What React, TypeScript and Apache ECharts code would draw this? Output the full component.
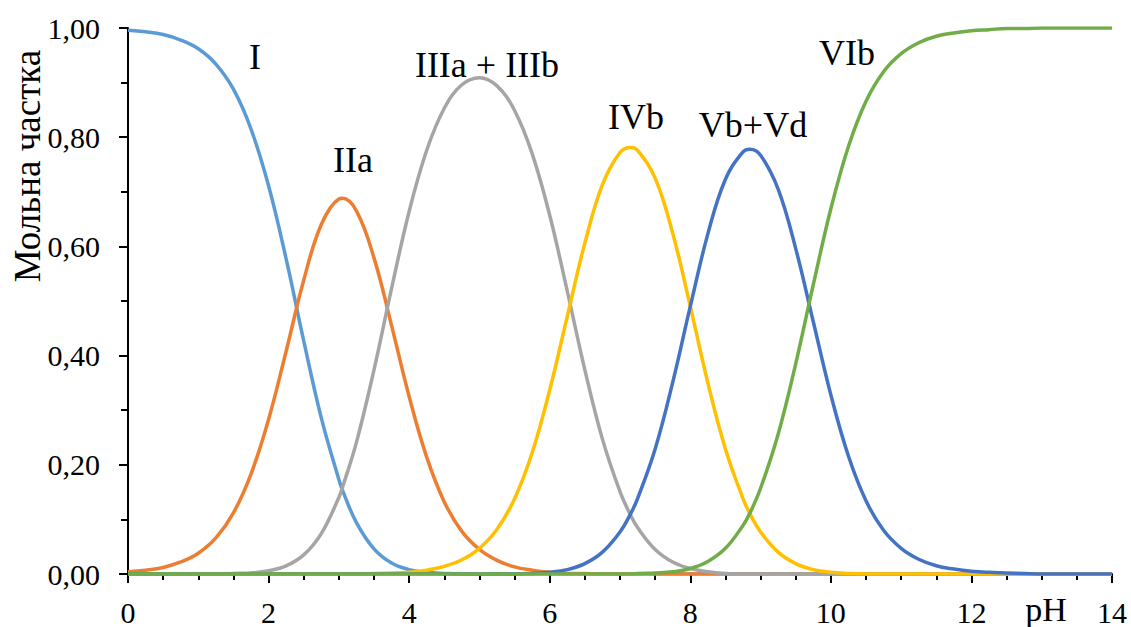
import React, { useEffect, useRef } from "react";
import * as echarts from "echarts";

// pH grid (x values), with extra samples at the curve maxima
const pH = [
  0, 0.25, 0.5, 0.75, 1, 1.25, 1.5, 1.75, 2, 2.25, 2.5, 2.75,
  3, 3.05, 3.25, 3.5, 3.75, 4, 4.25, 4.5, 4.75, 5, 5.25, 5.5, 5.75,
  6, 6.25, 6.5, 6.75, 7, 7.15, 7.25, 7.5, 7.75, 8, 8.25, 8.5, 8.75,
  8.85, 9, 9.25, 9.5, 9.75, 10, 10.25, 10.5, 10.75, 11, 11.25, 11.5, 11.75,
  12, 12.25, 12.5, 12.75, 13, 13.25, 13.5, 13.75, 14,
];

const speciesI = [
  0.996, 0.993, 0.988, 0.978, 0.962, 0.934, 0.888, 0.815, 0.711, 0.577, 0.427, 0.286,
  0.173, 0.154, 0.094, 0.046, 0.020, 0.008, 0.003, 0.001, 0, 0, 0, 0, 0,
  0, 0, 0, 0, 0, 0, 0, 0, 0, 0, 0, 0, 0,
  0, 0, 0, 0, 0, 0, 0, 0, 0, 0, 0, 0, 0,
  0, 0, 0, 0, 0, 0, 0, 0, 0,
];

const speciesIIa = [
  0.004, 0.007, 0.012, 0.022, 0.038, 0.066, 0.112, 0.183, 0.283, 0.408, 0.538, 0.640,
  0.687, 0.688, 0.665, 0.579, 0.455, 0.325, 0.214, 0.132, 0.078, 0.045, 0.025, 0.013, 0.007,
  0.003, 0.001, 0.001, 0, 0, 0, 0, 0, 0, 0, 0, 0, 0,
  0, 0, 0, 0, 0, 0, 0, 0, 0, 0, 0, 0, 0,
  0, 0, 0, 0, 0, 0, 0, 0, 0,
];

const speciesIII = [
  0, 0, 0, 0, 0, 0, 0.001, 0.002, 0.006, 0.015, 0.035, 0.074,
  0.140, 0.158, 0.241, 0.374, 0.523, 0.664, 0.776, 0.853, 0.896, 0.909, 0.894, 0.849, 0.770,
  0.657, 0.518, 0.374, 0.247, 0.151, 0.108, 0.085, 0.045, 0.022, 0.010, 0.004, 0.001, 0,
  0, 0, 0, 0, 0, 0, 0, 0, 0, 0, 0, 0, 0,
  0, 0, 0, 0, 0, 0, 0, 0, 0,
];

const speciesIVb = [
  0, 0, 0, 0, 0, 0, 0, 0, 0, 0, 0, 0,
  0, 0, 0, 0.001, 0.002, 0.003, 0.007, 0.014, 0.026, 0.047, 0.082, 0.138, 0.222,
  0.337, 0.472, 0.606, 0.713, 0.772, 0.781, 0.776, 0.725, 0.624, 0.490, 0.350, 0.229, 0.138,
  0.110, 0.077, 0.040, 0.019, 0.008, 0.003, 0.001, 0, 0, 0, 0, 0, 0,
  0, 0, 0, 0, 0, 0, 0, 0, 0,
];

const speciesV = [
  0, 0, 0, 0, 0, 0, 0, 0, 0, 0, 0, 0,
  0, 0, 0, 0, 0, 0, 0, 0, 0, 0, 0, 0, 0.001,
  0.003, 0.008, 0.019, 0.040, 0.077, 0.110, 0.138, 0.229, 0.351, 0.490, 0.623, 0.723, 0.773,
  0.778, 0.767, 0.705, 0.596, 0.462, 0.328, 0.216, 0.134, 0.080, 0.047, 0.027, 0.015, 0.009,
  0.005, 0.003, 0.002, 0.001, 0, 0, 0, 0, 0,
];

const speciesVIb = [
  0, 0, 0, 0, 0, 0, 0, 0, 0, 0, 0, 0,
  0, 0, 0, 0, 0, 0, 0, 0, 0, 0, 0, 0, 0,
  0, 0, 0, 0, 0, 0, 0.001, 0.002, 0.004, 0.010, 0.023, 0.047, 0.089,
  0.112, 0.157, 0.256, 0.385, 0.530, 0.669, 0.783, 0.866, 0.920, 0.953, 0.973, 0.985, 0.991,
  0.995, 0.997, 0.999, 0.999, 1, 1, 1, 1, 1,
];

const seriesNames = ["I", "IIa", "IIIa + IIIb", "IVb", "Vb+Vd", "VIb"];
const seriesValues = [speciesI, speciesIIa, speciesIII, speciesIVb, speciesV, speciesVIb];
const seriesColors = ["#5B9BD5", "#ED7D31", "#A5A5A5", "#FFC000", "#4472C4", "#70AD47"];

const yTitle = "Мольна частка";
const xTitle = "pH";

const FONT = "'Liberation Serif', 'Times New Roman', serif";

export default function App() {
  const ref = useRef<HTMLDivElement>(null);

  useEffect(() => {
    if (!ref.current) return;
    const chart = echarts.init(ref.current, null, { renderer: "svg" });

    const labelPos: [number, number][] = [
      [255, 57],
      [353, 160],
      [487, 65],
      [636, 117],
      [753, 125],
      [847, 53],
    ];

    chart.setOption({
      animation: false,
      backgroundColor: "#ffffff",
      grid: { left: 128, right: 19, top: 28, bottom: 53, containLabel: false },
      xAxis: {
        type: "value",
        min: 0,
        max: 14,
        interval: 2,
        axisLine: { show: true, onZero: false, lineStyle: { color: "#000", width: 2 } },
        axisTick: { show: true, length: 9, lineStyle: { color: "#000", width: 2 } },
        minorTick: { show: true, splitNumber: 4, length: 6, lineStyle: { color: "#000", width: 2 } },
        splitLine: { show: false },
        axisLabel: {
          color: "#000",
          fontFamily: FONT,
          fontSize: 30,
          margin: 23,
          formatter: (v: number) => String(v),
        },
      },
      yAxis: {
        type: "value",
        min: 0,
        max: 1,
        interval: 0.2,
        axisLine: { show: true, lineStyle: { color: "#000", width: 2 } },
        axisTick: { show: true, length: 9, lineStyle: { color: "#000", width: 2 } },
        minorTick: { show: true, splitNumber: 2, length: 7, lineStyle: { color: "#000", width: 2 } },
        splitLine: { show: false },
        axisLabel: {
          color: "#000",
          fontFamily: FONT,
          fontSize: 30,
          margin: 28,
          formatter: (v: number) => v.toFixed(2).replace(".", ","),
        },
      },
      series: seriesValues.map((vals, i) => ({
        name: seriesNames[i],
        type: "line",
        smooth: 0.4,
        showSymbol: false,
        symbol: "none",
        lineStyle: { color: seriesColors[i], width: 3.5 },
        itemStyle: { color: seriesColors[i] },
        data: pH.map((x, k) => [x, vals[k]]),
        z: 2 + i,
      })),
      graphic: [
        ...seriesNames.map((name, i) => ({
          type: "text",
          x: labelPos[i][0],
          y: labelPos[i][1],
          z: 100,
          style: {
            text: name,
            fill: "#000",
            fontFamily: FONT,
            fontSize: 36,
            align: "center",
            verticalAlign: "middle",
          },
        })),
        {
          type: "text",
          x: 27,
          y: 166,
          rotation: Math.PI / 2,
          z: 100,
          style: {
            text: yTitle,
            fill: "#000",
            fontFamily: FONT,
            fontSize: 37,
            align: "center",
            verticalAlign: "middle",
          },
        },
        {
          type: "text",
          x: 1046,
          y: 609,
          z: 100,
          style: {
            text: xTitle,
            fill: "#000",
            fontFamily: FONT,
            fontSize: 34,
            align: "center",
            verticalAlign: "middle",
          },
        },
      ],
    });

    return () => chart.dispose();
  }, []);

  return (
    <div
      ref={ref}
      style={{ position: "absolute", left: 0, top: 0, width: 1131, height: 627 }}
    />
  );
}
